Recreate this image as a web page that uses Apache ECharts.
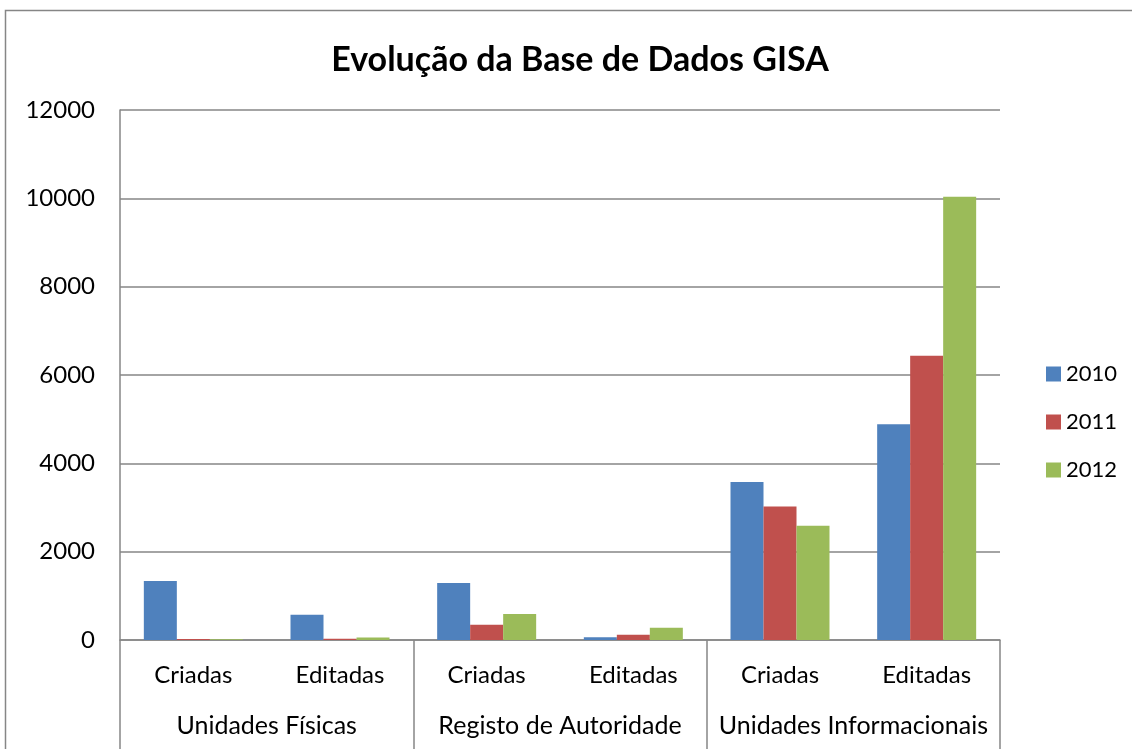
<!DOCTYPE html>
<html>
<head>
<meta charset="utf-8">
<script src="https://cdn.jsdelivr.net/npm/echarts@6/dist/echarts.min.js"></script>
<style>html,body{margin:0;padding:0;background:#fff}#c{width:1132px;height:749px}</style>
</head>
<body>
<div id="c"></div>
<script>
const subCategories = ['Criadas','Editadas','Criadas','Editadas','Criadas','Editadas'];
const groups = ['Unidades Físicas','Registo de Autoridade','Unidades Informacionais'];
const years = ['2010','2011','2012'];
const s2010 = [1336, 570, 1290, 60, 3577, 4885];
const s2011 = [20, 30, 345, 120, 3020, 6437];
const s2012 = [15, 55, 590, 275, 2585, 10035];
const yTicks = [0, 2000, 4000, 6000, 8000, 10000, 12000];

const FONT = "Lato,sans-serif";
const colors = ['#4F81BD','#C0504D','#9BBB59'];
const chart = echarts.init(document.getElementById('c'));
const mk = (name, data, i) => ({
  name, type:'bar', data, xAxisIndex:0, barGap:'0%', barCategoryGap:'32.5%',
  itemStyle:{color:colors[i]}
});
chart.setOption({
  animation:false,
  title:{text:'Evolução da Base de Dados GISA', left:575, top:38, textAlign:'center',
    textStyle:{fontFamily:FONT, fontWeight:'bold', fontSize:34, color:'#000'}},
  graphic:[{type:'rect', shape:{x:5.5,y:10.5,width:1140,height:760}, style:{fill:'none', stroke:'#868686', lineWidth:1.5}}],
  legend:{orient:'vertical', left:1041, top:358, itemWidth:15, itemHeight:15, itemGap:26,
    icon:'rect', data:years, textStyle:{fontFamily:FONT, fontSize:22, color:'#000'}},
  grid:{left:120, right:132, top:110, bottom:109},
  xAxis:[
    {type:'category', data:subCategories, position:'bottom',
      axisLine:{show:true, lineStyle:{color:'#868686', width:1.5}},
      axisTick:{show:false},
      axisLabel:{margin:23, fontFamily:FONT, fontSize:24, color:'#000', interval:0}},
    {type:'category', data:groups, position:'bottom',
      axisLine:{show:false},
      axisTick:{show:true, length:115, lineStyle:{color:'#868686', width:1.5}},
      axisLabel:{margin:73, fontFamily:FONT, fontSize:25, color:'#000', interval:0}}
  ],
  yAxis:{type:'value', min:0, max:12000, interval:2000,
    axisLine:{show:true, lineStyle:{color:'#868686', width:1.5}},
    axisTick:{show:false},
    splitLine:{lineStyle:{color:'#868686', width:1.5}},
    axisLabel:{margin:25, fontFamily:FONT, fontSize:24, color:'#000',
      formatter:v => yTicks.includes(v) ? String(v) : ''}},
  series:[mk('2010', s2010, 0), mk('2011', s2011, 1), mk('2012', s2012, 2)]
});
</script>
</body>
</html>
